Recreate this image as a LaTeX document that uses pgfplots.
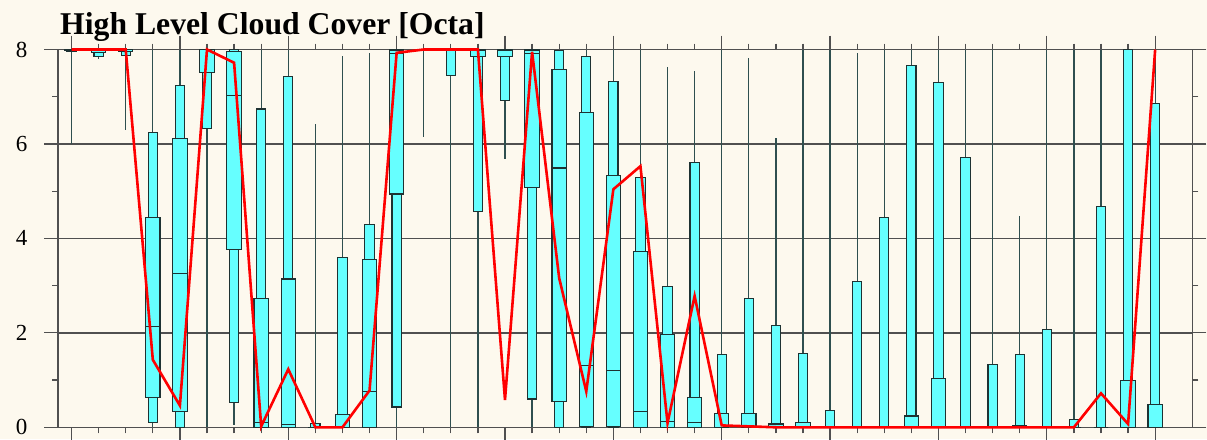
\documentclass[border=0pt]{standalone}
\usepackage{fontspec}
\setmainfont{Liberation Serif}
\usepackage{pgfplots}
\usepackage{pgfplotstable}
\pgfplotsset{compat=1.18}
\usepgfplotslibrary{statistics}
\definecolor{bg}{HTML}{FDF9EE}
\definecolor{boxfill}{HTML}{66FFFF}
\definecolor{gridc}{HTML}{505050}
\definecolor{whisk}{HTML}{2F4F4F}
\definecolor{boxedge}{HTML}{1E3232}

\pgfplotstableread{
x mn p10 q1 med q3 p90 mx mean
0 6.00 7.95 7.97 8.00 8.00 8.00 8.00 8.00
1 7.79 7.85 7.93 8.00 8.00 8.00 8.00 8.00
2 6.30 7.88 7.95 8.00 8.00 8.00 8.00 8.00
3 0.00 0.11 0.64 2.14 4.45 6.24 8.00 1.43
4 0.00 0.00 0.34 3.26 6.11 7.23 8.00 0.46
5 0.00 6.33 7.52 8.00 8.00 8.00 8.00 8.00
6 0.05 0.52 3.77 7.02 7.96 8.00 8.00 7.72
7 0.00 0.00 0.00 0.11 2.72 6.74 8.00 0.02
8 0.00 0.00 0.00 0.05 3.14 7.43 8.00 1.23
9 0.00 0.00 0.00 0.00 0.00 0.09 6.42 0.00
10 0.00 0.00 0.00 0.00 0.28 3.60 7.86 0.00
11 0.00 0.00 0.00 0.76 3.56 4.29 7.93 0.78
12 0.00 0.43 4.94 7.92 7.99 8.00 8.00 7.93
13 6.15 8.00 8.00 8.00 8.00 8.00 8.00 8.00
14 0.00 7.44 8.00 8.00 8.00 8.00 8.00 8.00
15 0.00 4.57 7.86 7.99 7.99 8.00 8.00 8.00
16 5.69 6.92 7.86 7.99 7.99 8.00 8.00 0.58
17 0.00 0.60 5.07 7.92 7.99 8.00 8.00 7.95
18 0.00 0.00 0.55 5.49 7.58 7.97 8.00 3.16
19 0.00 0.00 0.02 1.31 6.67 7.85 8.00 0.76
20 0.00 0.00 0.02 1.21 5.33 7.33 8.00 5.04
21 0.00 0.00 0.00 0.34 3.72 5.29 8.00 5.53
22 0.00 0.00 0.00 0.12 1.97 2.99 7.63 0.09
23 0.00 0.00 0.00 0.11 0.64 5.61 7.55 2.78
24 0.00 0.00 0.00 0.00 0.30 1.54 8.00 0.04
25 0.00 0.00 0.00 0.00 0.30 2.72 7.81 0.02
26 0.00 0.00 0.00 0.00 0.07 2.16 6.13 0.00
27 0.00 0.00 0.00 0.00 0.10 1.57 8.00 0.00
28 0.00 0.00 0.00 0.00 0.00 0.36 8.00 0.00
29 0.00 0.00 0.00 0.00 0.00 3.09 7.93 0.00
30 0.00 0.00 0.00 0.00 0.02 4.45 8.00 0.00
31 0.00 0.00 0.00 0.00 0.24 7.66 8.00 0.00
32 0.00 0.00 0.00 0.00 1.04 7.30 8.00 0.00
33 0.00 0.00 0.00 0.00 0.00 5.72 8.00 0.00
34 0.00 0.00 0.00 0.00 0.00 1.33 8.00 0.00
35 0.00 0.00 0.00 0.00 0.04 1.54 4.48 0.00
36 0.00 0.00 0.00 0.00 0.00 2.07 8.00 0.00
37 0.00 0.00 0.00 0.00 0.00 0.16 8.00 0.00
38 0.00 0.00 0.00 0.00 0.00 4.67 8.00 0.72
39 0.00 0.00 0.00 0.00 0.99 8.00 8.00 0.07
40 0.00 0.00 0.00 0.00 0.48 6.86 8.00 8.00
}\datatable

\pgfplotsset{
  thinbox/.style={solid, draw=boxedge, fill=boxfill, line width=1.1pt,
    boxplot/draw direction=y,
    boxplot/box extend=0.34, boxplot/whisker extend=0,
    boxplot/every whisker/.style={draw=whisk, line width=1.3pt},
    boxplot/every median/.style={draw=boxedge, line width=1.1pt}},
  widebox/.style={solid, draw=boxedge, fill=boxfill, line width=1.1pt,
    boxplot/draw direction=y,
    boxplot/box extend=0.53, boxplot/whisker extend=0,
    boxplot/every whisker/.style={draw=none},
    boxplot/every median/.style={draw=boxedge, line width=1.1pt}},
}

\begin{document}
\begin{tikzpicture}
\useasboundingbox (0,0) rectangle (1207pt,439pt);
\fill[bg] (0,0) rectangle (1207pt,439pt);
\begin{axis}[
  at={(58pt,11.7pt)}, anchor=south west,
  scale only axis, width=1134.3pt, height=377.8pt,
  xmin=-0.5, xmax=41.37, ymin=0, ymax=8,
  clip=false,
  axis line style={draw=gridc, line width=1.2pt},
  xtick={0,4,...,40}, xticklabels={}, xticklabel pos=upper, minor x tick num=3,
  xticklabel style={inner sep=0pt, outer sep=0pt},
  ytick={0,2,4,6,8}, minor ytick={1,3,5,7},
  ymajorgrids, grid style={draw=gridc, line width=1.3pt},
  tick align=outside, major tick length=14pt, minor tick length=6pt,
  tick style={draw=gridc, line width=1.2pt},
  xtick pos=both, ytick pos=both,
  yticklabel pos=left,
  /pgf/number format/assume math mode=true,
  yticklabel style={font=\fontsize{23}{26}\selectfont, xshift=-13pt},
]
\pgfplotsinvokeforeach{0,...,40}{
  \pgfplotstablegetelem{#1}{mn}\of\datatable \let\vmn\pgfplotsretval
  \pgfplotstablegetelem{#1}{p10}\of\datatable \let\vpa\pgfplotsretval
  \pgfplotstablegetelem{#1}{q1}\of\datatable \let\vqa\pgfplotsretval
  \pgfplotstablegetelem{#1}{med}\of\datatable \let\vmd\pgfplotsretval
  \pgfplotstablegetelem{#1}{q3}\of\datatable \let\vqb\pgfplotsretval
  \pgfplotstablegetelem{#1}{p90}\of\datatable \let\vpb\pgfplotsretval
  \pgfplotstablegetelem{#1}{mx}\of\datatable \let\vmx\pgfplotsretval
  \edef\temp{%
    \noexpand\addplot[thinbox, boxplot prepared={draw position=#1, lower whisker=\vmn, lower quartile=\vpa, median=\vpa, upper quartile=\vpb, upper whisker=\vmx}] coordinates {};
    \noexpand\addplot[widebox, boxplot prepared={draw position=#1, lower whisker=\vqa, lower quartile=\vqa, median=\vmd, upper quartile=\vqb, upper whisker=\vqb}] coordinates {};
  }\temp
}
\addplot[red, line width=2.6pt, mark=none] table[x=x, y=mean] {\datatable};
\end{axis}
\node[anchor=base west, inner sep=0pt, font=\fontsize{31.7}{36}\selectfont\bfseries] at (60pt,404.7pt) {High Level Cloud Cover [Octa]};
\end{tikzpicture}
\end{document}
